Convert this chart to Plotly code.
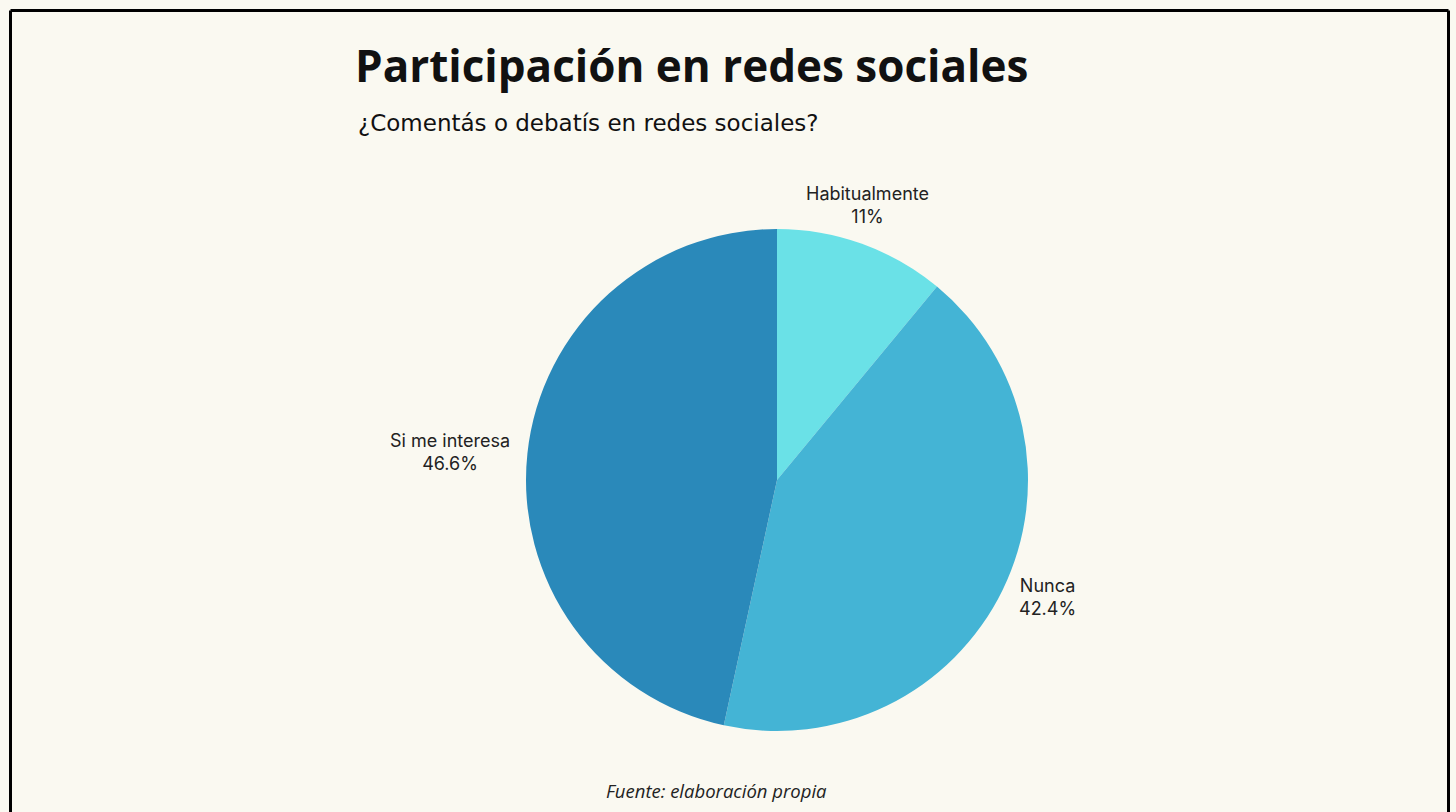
import math
import plotly.graph_objects as go

labels = ["Habitualmente", "Nunca", "Si me interesa"]
values = [11, 42.4, 46.6]
colors = ["#6AE1E7", "#44B4D5", "#2A89BA"]

W, H = 1456, 812
cx, cy, r = 777, 480, 251

fig = go.Figure(go.Pie(
    labels=labels, values=values, sort=False, direction="clockwise", rotation=0,
    marker=dict(colors=colors, line=dict(width=0)),
    textinfo="none",
    showlegend=False, hoverinfo="label+percent",
    domain=dict(x=[(cx - r) / W, (cx + r) / W], y=[1 - (cy + r) / H, 1 - (cy - r) / H]),
))

bx0, bx1, by1 = 10.5 / W, 1448.5 / W, 1 - 10.5 / H
shapes = [
    dict(type="line", xref="paper", yref="paper", x0=bx0, x1=bx1, y0=by1, y1=by1, line=dict(color="black", width=3)),
    dict(type="line", xref="paper", yref="paper", x0=bx0, x1=bx0, y0=by1, y1=-0.05, line=dict(color="black", width=3)),
    dict(type="line", xref="paper", yref="paper", x0=bx1, x1=bx1, y0=by1, y1=-0.05, line=dict(color="black", width=3)),
]

annotations = [
    dict(text="<b>Participación en redes sociales</b>", x=353 / W, y=1 - 33 / H, xref="paper", yref="paper",
         xanchor="left", yanchor="top", showarrow=False,
         font=dict(family="Open Sans", size=44, color="#111111")),
    dict(text="¿Comentás o debatís en redes sociales?", x=356 / W, y=1 - 108 / H, xref="paper", yref="paper",
         xanchor="left", yanchor="top", showarrow=False,
         font=dict(family="DejaVu Sans", size=23, color="#111111")),
    dict(text="<i>Fuente: elaboración propia</i>", x=716 / W, y=1 - 790 / H, xref="paper", yref="paper",
         xanchor="center", yanchor="middle", showarrow=False,
         font=dict(family="Open Sans", size=18.5, color="#222222")),
]

# outside slice labels placed along each slice's mid-angle
total = sum(values)
cum = 0.0
gap = 16
for lab, v in zip(labels, values):
    mid = (cum + v / 2) / total * 2 * math.pi
    cum += v
    ux, uy = math.sin(mid), -math.cos(mid)  # screen direction (y down)
    px = cx + (r + gap) * ux
    py = cy + (r + gap) * uy
    xa = "left" if ux > 0.5 else ("right" if ux < -0.5 else "center")
    ya = "top" if uy > 0.5 else ("bottom" if uy < -0.5 else "middle")
    annotations.append(dict(
        text=f"{lab}<br>{v / total * 100:.3g}%", x=px / W, y=1 - py / H,
        xref="paper", yref="paper", xanchor=xa, yanchor=ya, showarrow=False,
        align="center", font=dict(family="Inter", size=18, color="#222222")))

fig.update_layout(
    width=W, height=H, margin=dict(l=0, r=0, t=0, b=0),
    paper_bgcolor="#FAF9F1", plot_bgcolor="#FAF9F1",
    shapes=shapes, annotations=annotations,
)

fig.write_html("out.html")
